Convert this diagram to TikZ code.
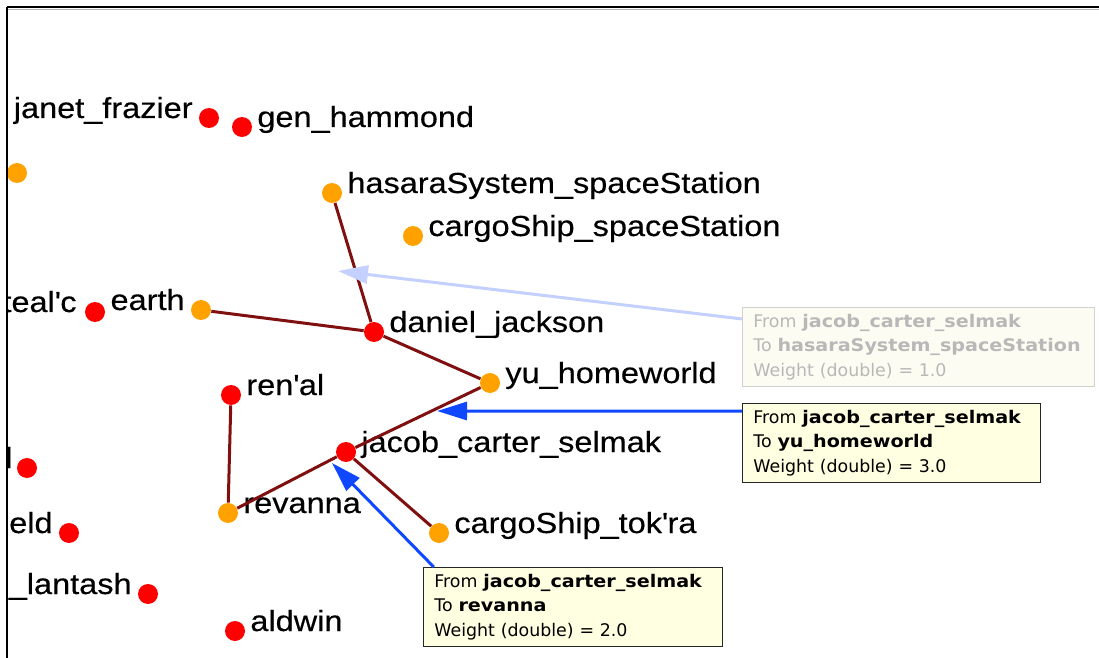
\documentclass[tikz,border=0pt]{standalone}
\usepackage{fontspec}
\usetikzlibrary{arrows.meta}
\newfontfamily\lblfont[FakeStretch=1.12,FakeBold=0.4]{Liberation Sans}
\newfontfamily\tipfont[BoldFeatures={FakeStretch=1.1}]{DejaVu Sans}
\definecolor{vred}{RGB}{255,0,0}
\definecolor{vorange}{RGB}{255,162,0}
\definecolor{edgered}{RGB}{128,16,16}
\definecolor{selblue}{RGB}{16,72,255}
\definecolor{fadeblue}{RGB}{196,208,255}
\definecolor{tipyellow}{RGB}{255,255,225}
\definecolor{fadeyellow}{RGB}{252,252,242}
\definecolor{fadegray}{RGB}{184,184,184}
\begin{document}
\begin{tikzpicture}[x=0.5pt,y=-0.5pt,
    redv/.style={circle,fill=vred,inner sep=0pt,minimum size=10pt},
    orangev/.style={redv,fill=vorange},
    lbl/.style={inner sep=0pt,font=\lblfont\fontsize{14.5pt}{17pt}\selectfont},
    lblR/.style={lbl,anchor=base west,xshift=7.5pt},
    lblL/.style={lbl,anchor=base east,xshift=-8pt},
    link/.style={edgered,line width=1.5pt},
    pick/.style={selblue,line width=1.5pt,-{Triangle[length=15pt,width=9pt]}},
    tipbox/.style={draw=black!85,fill=tipyellow,anchor=north west,align=left,inner xsep=5.5pt,inner ysep=0pt,minimum height=39.5pt,font=\tipfont\fontsize{8.7pt}{12.25pt}\selectfont}]
    \useasboundingbox (0,0) rectangle (1099,658);
    \begin{scope}
    \clip (7,0) rectangle (1099,658);
    \node[redv] (janet) at (209,118) {};
    \node[redv] (hammond) at (242,127) {};
    \node[orangev] (edgev) at (17,173) {};
    \node[orangev] (hasara) at (332,193) {};
    \node[orangev] (cargoss) at (413,236) {};
    \node[redv] (tealc) at (95,312) {};
    \node[orangev] (earth) at (201,310) {};
    \node[redv] (daniel) at (374,332) {};
    \node[orangev] (yu) at (490,383) {};
    \node[redv] (renal) at (231,395) {};
    \node[redv] (jacob) at (346,452) {};
    \node[orangev] (revanna) at (228,513) {};
    \node[orangev] (tokra) at (439,533) {};
    \node[redv] (leftl) at (27,468) {};
    \node[redv] (leftld) at (69,533) {};
    \node[redv] (lantash) at (148,594) {};
    \node[redv] (aldwin) at (235,631) {};

    \node[lblL] at (janet) {janet\_frazier};
    \node[lblR] at (hammond) {gen\_hammond};
    \node[lblR] at (hasara) {hasaraSystem\_spaceStation};
    \node[lblR] at (cargoss) {cargoShip\_spaceStation};
    \node[lblL,xshift=-1pt] at (tealc) {teal\textquotesingle c};
    \node[lblL] at (earth) {earth};
    \node[lblR] at (daniel) {daniel\_jackson};
    \node[lblR] at (yu) {yu\_homeworld};
    \node[lblR] at (renal) {ren\textquotesingle al};
    \node[lblR] at (jacob) {jacob\_carter\_selmak};
    \node[lblR] at (revanna) {revanna};
    \node[lblR] at (tokra) {cargoShip\_tok\textquotesingle ra};
    \node[lblL,xshift=1pt] at (leftl) {l};
    \node[lblL] at (leftld) {eld};
    \node[lblL] at (lantash) {\_lantash};
    \node[lblR] at (aldwin) {aldwin};

    \draw[link] (hasara) -- (daniel);
    \draw[link] (earth) -- (daniel);
    \draw[link] (daniel) -- (yu);
    \draw[link] (yu) -- (jacob);
    \draw[link] (jacob) -- (revanna);
    \draw[link] (revanna) -- (renal);
    \draw[link] (jacob) -- (tokra);

    \node[tipbox,draw=black!18,fill=fadeyellow,text=fadegray,text width=165pt] (tiphasara) at (742,307)
        {From \textbf{jacob\_carter\_selmak}\\To \textbf{hasaraSystem\_spaceStation}\\Weight (double) = 1.0};
    \node[tipbox,text width=138pt] (tipyu) at (742,403)
        {From \textbf{jacob\_carter\_selmak}\\To \textbf{yu\_homeworld}\\Weight (double) = 3.0};
    \node[tipbox,text width=138.5pt] (tiprev) at (423,567)
        {From \textbf{jacob\_carter\_selmak}\\To \textbf{revanna}\\Weight (double) = 2.0};

    \coordinate (ptA) at (338,271);
    \coordinate (ptB) at (437,411);
    \coordinate (ptC) at (332,463);
    \draw[pick,fadeblue] (tiphasara.171) -- (ptA);
    \draw[pick] (tipyu.168) -- (ptB);
    \draw[pick] (tiprev.164) -- (ptC);
    \end{scope}
    \draw[black!30,line width=0.6pt] (8,9.6) -- (1099,9.6);
    \draw[line width=0.9pt] (7,7) -- (1099,7);
    \draw[line width=0.9pt] (7,7) -- (7,658);
\end{tikzpicture}
\end{document}
